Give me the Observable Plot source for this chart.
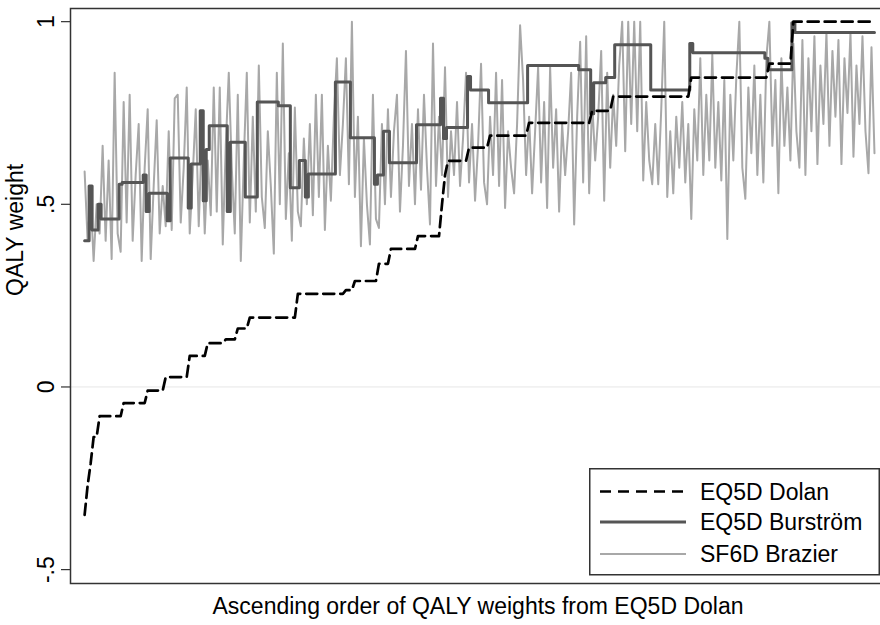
<!DOCTYPE html>
<html><head><meta charset="utf-8">
<script src="https://cdn.jsdelivr.net/npm/d3@7"></script>
<script src="https://cdn.jsdelivr.net/npm/@observablehq/plot@0.6"></script>
<style>
body{margin:0;background:#fff;}
#wrap{position:relative;width:880px;height:625px;overflow:hidden;font-family:"Liberation Sans",Arial,sans-serif;}
#legend{position:absolute;left:589px;top:468px;}
</style></head><body><div id="wrap"></div>
<script>
const seriesNames = ["EQ5D Dolan", "EQ5D Burström", "SF6D Brazier"];
const xTitle = "Ascending order of QALY weights from EQ5D Dolan";
const yTitle = "QALY weight";
const yTicks = [-0.5, 0, 0.5, 1];
const yTickLabels = ["-.5", "0", ".5", "1"];

// EQ5D Dolan: step values and number of observations at each value (sorted ascending)
const dolanValues = [-0.35,-0.27,-0.21,-0.137,-0.08,-0.044,-0.01,0.027,0.085,0.12,0.13,0.16,0.19,0.255,0.265,0.29,0.337,0.378,0.413,0.50,0.58,0.619,0.655,0.688,0.723,0.756,0.795,0.847,0.885,1.0];
const dolanRuns   = [1,1,1,2,8,8,6,8,6,6,4,4,16,16,3,8,4,9,8,1,1,7,7,13,21,7,26,26,8,28];

// EQ5D Burström: step values and run lengths
const burstromValues = [0.40,0.55,0.43,0.50,0.46,0.555,0.56,0.58,0.48,0.53,0.455,0.627,0.49,0.61,0.756,0.51,0.65,0.715,0.48,0.67,0.52,0.78,0.77,0.545,0.62,0.52,0.583,0.835,0.682,0.555,0.58,0.70,0.614,0.718,0.79,0.68,0.71,0.85,0.813,0.778,0.88,0.868,0.748,0.833,0.847,0.937,0.813,0.94,0.915,0.90,0.868,0.997,0.97];
const burstromRuns   = [2,1,2,1,6,1,7,1,1,6,1,6,1,3,1,1,1,6,1,5,4,7,4,3,2,1,9,5,8,1,2,2,9,8,1,1,7,1,6,13,17,4,1,4,3,12,13,1,24,1,8,1,27];

// SF6D Brazier: one value per observation
const sf6dValues = [
0.59,0.40,0.52,0.345,0.50,0.42,0.66,0.40,0.62,0.35,0.86,0.42,
0.37,0.78,0.45,0.80,0.40,0.58,0.72,0.345,0.60,0.76,0.35,0.55,
0.73,0.42,0.55,0.44,0.70,0.43,0.79,0.80,0.45,0.60,0.82,0.42,
0.58,0.76,0.44,0.68,0.42,0.62,0.47,0.82,0.48,0.82,0.39,0.66,
0.86,0.60,0.42,0.80,0.345,0.62,0.86,0.45,0.74,0.48,0.88,0.52,
0.435,0.70,0.55,0.365,0.86,0.50,0.94,0.46,0.64,0.40,0.765,0.48,
0.44,0.68,0.50,0.72,0.47,0.80,0.52,0.80,0.43,0.66,0.51,0.74,
0.90,0.58,0.72,0.90,0.555,1.0,0.52,0.74,0.385,0.68,0.50,0.39,
0.80,0.46,0.435,0.72,0.50,0.76,0.52,0.70,0.80,0.48,0.66,0.92,
0.55,0.72,0.50,0.76,0.54,0.80,0.60,0.445,0.94,0.55,0.74,0.58,
0.875,0.52,0.70,0.58,0.78,0.55,0.68,0.86,0.56,0.72,0.51,0.66,
0.885,0.56,0.50,0.74,0.58,0.86,0.55,0.84,0.49,0.70,0.60,0.53,
0.72,0.99,0.84,0.58,0.74,0.53,0.70,0.875,0.56,0.78,0.49,0.875,
0.60,0.76,0.48,0.72,0.58,0.70,0.86,0.445,0.74,0.945,0.56,0.96,
0.53,0.78,0.62,0.74,0.92,0.51,0.86,0.60,0.80,0.66,0.88,1.0,
0.645,1.0,0.72,1.0,0.70,1.0,0.565,0.78,0.62,0.555,0.72,0.555,
0.76,1.0,0.52,0.70,0.53,0.74,0.60,0.78,0.56,0.72,0.46,0.76,
0.62,0.90,0.58,0.80,0.62,0.91,0.60,0.78,0.565,0.84,0.405,0.80,
0.62,0.85,1.0,0.60,0.515,0.82,0.64,0.88,0.58,0.80,0.56,0.90,
1.0,0.66,0.84,0.53,0.90,0.66,0.82,0.62,0.94,0.70,0.60,0.95,
0.58,0.90,0.70,0.96,0.61,0.88,0.72,0.97,0.66,0.92,0.74,0.95,
0.61,0.90,0.75,0.97,0.63,0.88,0.72,0.96,0.70,0.585,0.93,0.64
];

function expand(values, runs) {
  const out = [];
  values.forEach((v, k) => { for (let j = 0; j < runs[k]; j++) out.push(v); });
  return out;
}
const dolan = expand(dolanValues, dolanRuns);
const burstrom = expand(burstromValues, burstromRuns);
const rows = sf6dValues.map((s, i) => ({i, sf6d: s, dolan: dolan[i], burstrom: burstrom[i]}));

const font = "Liberation Sans, Arial, sans-serif";
const fs = 23;
const chart = Plot.plot({
  width: 880, height: 625,
  marginLeft: 70, marginRight: -9, marginTop: 8, marginBottom: 42,
  style: {fontFamily: font, background: "#fff", color: "#000"},
  x: {domain: [-4.7, 268], axis: null},
  y: {domain: [-0.538, 1.036], axis: null},
  marks: [
    Plot.ruleY([0], {stroke: "#e6e6e6", strokeWidth: 1}),
    Plot.line(rows, {x: "i", y: "sf6d", stroke: "#a8a8a8", strokeWidth: 2}),
    Plot.line(rows, {x: "i", y: "burstrom", stroke: "#555555", strokeWidth: 3, curve: "step"}),
    Plot.line(rows, {x: "i", y: "dolan", stroke: "#000", strokeWidth: 2.7, strokeDasharray: "11,6"}),
    Plot.frame({stroke: "#333", strokeWidth: 1.5}),
    Plot.axisY({ticks: yTicks, tickFormat: d => yTickLabels[yTicks.indexOf(d)], tickSize: 9, tickRotate: -90, tickPadding: 8, fontSize: fs, label: null, stroke: "#333", strokeWidth: 1.2}),
    Plot.text([yTitle], {text: d => d, frameAnchor: "left", dx: -55, rotate: -90, fontSize: fs, fill: "#000"}),
    Plot.text([xTitle], {text: d => d, frameAnchor: "bottom", dx: -2, dy: 30, fontSize: fs, fill: "#000"})
  ]
});
const wrap = document.getElementById("wrap");
wrap.appendChild(chart);

// legend
const lg = d3.select(wrap).append("svg").attr("id", "legend").attr("width", 291).attr("height", 108);
lg.append("rect").attr("x", 0.75).attr("y", 0.75).attr("width", 289.5).attr("height", 106).attr("fill", "#fff").attr("stroke", "#333").attr("stroke-width", 1.5);
const styles = [
  {stroke: "#000", w: 2.7, dash: "11,7"},
  {stroke: "#555555", w: 3, dash: null},
  {stroke: "#a8a8a8", w: 2, dash: null}
];
const rowY = [23.5, 54, 86];
seriesNames.forEach((name, k) => {
  const l = lg.append("line").attr("x1", 11).attr("x2", 97).attr("y1", rowY[k]).attr("y2", rowY[k])
    .attr("stroke", styles[k].stroke).attr("stroke-width", styles[k].w);
  if (styles[k].dash) l.attr("stroke-dasharray", styles[k].dash);
  lg.append("text").attr("x", 111).attr("y", rowY[k]).attr("dy", "0.35em")
    .attr("font-family", font).attr("font-size", fs).attr("fill", "#000").text(name);
});
</script></body></html>
